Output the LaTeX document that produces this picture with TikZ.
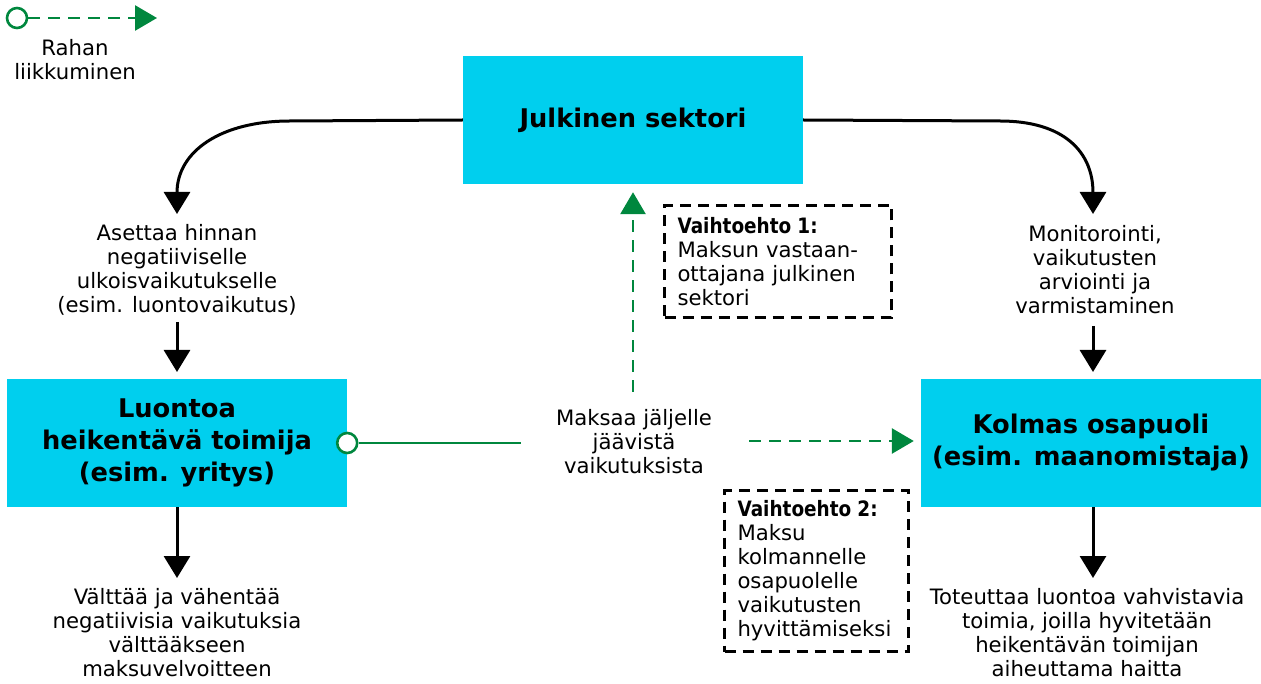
\documentclass[tikz,border=0pt]{standalone}
\usepackage{fontspec}
\setmainfont{DejaVu Sans}
\usetikzlibrary{arrows.meta,calc}
\definecolor{boxcyan}{RGB}{0,207,238}
\definecolor{moneygreen}{RGB}{0,135,62}
\newcommand{\opthead}[1]{\scalebox{0.87}[1]{\textbf{#1}}}
\tikzset{
  actor/.style={fill=boxcyan, minimum width=340pt, minimum height=128pt, align=center,
    font=\fontsize{25.7}{32}\selectfont\bfseries, inner sep=0pt},
  label/.style={align=center, font=\fontsize{21.2}{24}\selectfont, inner sep=0pt},
  option/.style={draw=black, line width=3pt, dash pattern=on 11pt off 7pt, align=left,
    font=\fontsize{21.2}{24}\selectfont, inner xsep=13pt, inner ysep=0pt, anchor=north west},
  flow/.style={line width=3pt, -{Triangle[width=26pt,length=22pt]}},
  money/.style={draw=moneygreen, line width=2.8pt, dash pattern=on 12pt off 8pt},
  moneytip/.style={-{Triangle[width=25pt,length=22pt]}, moneygreen},
  origin/.style={circle, draw=moneygreen, fill=white, line width=2.6pt, minimum size=20pt, inner sep=0pt}
}
\begin{document}
\begin{tikzpicture}[x=1pt,y=-1pt]
\useasboundingbox (0,0) rectangle (1261,684);
% legend
\node[origin] (lo) at (17,18) {};
\coordinate (lt) at (157,18);
\draw[money,moneytip] (lo.east) -- (lt);
\node[label] (leg) at (75,60) {Rahan\\liikkuminen};
% actors
\node[actor] (jul) at (633,120) {Julkinen sektori};
\node[actor] (luo) at (177,443) {Luontoa\\heikentävä toimija\\(esim. yritys)};
\node[actor] (kol) at (1091,443) {Kolmas osapuoli\\(esim. maanomistaja)};
% labels
\node[label] (aset) at (177,270) {Asettaa hinnan\\negatiiviselle\\ulkoisvaikutukselle\\(esim. luontovaikutus)};
\node[label] (moni) at (1095,270) {Monitorointi,\\vaikutusten\\arviointi ja\\varmistaminen};
\node[label] (valt) at (177,633) {Välttää ja vähentää\\negatiivisia vaikutuksia\\välttääkseen\\maksuvelvoitteen};
\node[label] (tot) at (1087,633) {Toteuttaa luontoa vahvistavia\\toimia, joilla hyvitetään\\heikentävän toimijan\\aiheuttama haitta};
\node[label] (maks) at (634,442) {Maksaa jäljelle\\jäävistä\\vaikutuksista};
% option boxes
\node[option, text width=201pt, minimum height=112pt] (opt1) at (663,204)
  {\opthead{Vaihtoehto 1:}\\Maksun vastaan-\\ottajana julkinen\\sektori};
\node[option, text width=158pt, minimum height=161pt] (opt2) at (723,489)
  {\opthead{Vaihtoehto 2:}\\Maksu\\kolmannelle\\osapuolelle\\vaikutusten\\hyvittämiseksi};
% curved arrows from public sector
\coordinate (ca) at (177,214);
\coordinate (cb) at (1093,214);
\draw[flow] (jul.west) -- (290,121) .. controls (220,121) and (177,152) .. (ca);
\draw[flow] (jul.east) -- (1000,121) .. controls (1064,121) and (1093,152) .. (cb);
% vertical arrows
\draw[flow] (177,322) -- (luo.north |- 0,372);
\draw[flow] (1093,326) -- (1093,372);
\draw[flow] (luo.south) -- (177,578);
\draw[flow] (kol.south -| 1093,0) -- (1093,578);
% money flows
\node[origin] (mo) at (luo.east) {};
\draw[moneygreen, line width=2.8pt] (mo.east) -- (521,443);
\draw[money,moneytip] (749,441) -- ($(kol.west)+(-7,-2)$);
\draw[money,moneytip] (633,392) -- ($(jul.south)+(0,8)$);
\end{tikzpicture}
\end{document}
